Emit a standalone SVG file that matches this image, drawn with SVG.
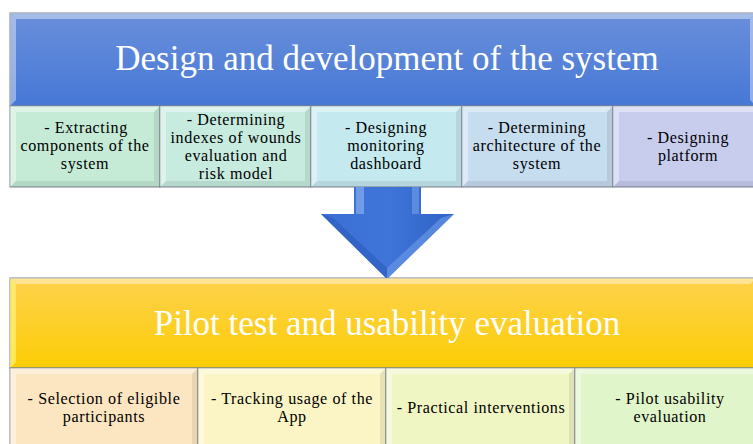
<svg xmlns="http://www.w3.org/2000/svg" width="753" height="444" viewBox="0 0 753 444">
  <defs>
    <linearGradient id="gBlue" x1="0" y1="0" x2="0" y2="1">
      <stop offset="0" stop-color="#6a8fda"/>
      <stop offset="1" stop-color="#4678d6"/>
    </linearGradient>
    <linearGradient id="gYellow" x1="0" y1="0" x2="0" y2="1">
      <stop offset="0" stop-color="#fdd24e"/>
      <stop offset="1" stop-color="#fccd04"/>
    </linearGradient>
    <linearGradient id="gArrow" x1="0" y1="0" x2="1" y2="0">
      <stop offset="0" stop-color="#3b6fd3"/>
      <stop offset="0.5" stop-color="#3f74d8"/>
      <stop offset="1" stop-color="#2f63c6"/>
    </linearGradient>
  </defs>
  <style>
    .frame { stroke: #7a8290; stroke-width: 1; }
    .hi { fill: #ffffff; opacity: 0.4; }
    .lo { fill: #000000; opacity: 0.08; }
    .title { font-family: "Liberation Serif", "Times New Roman", serif; fill: #ffffff; text-anchor: middle; }
    .lbl { font-family: "Liberation Serif", "Times New Roman", serif; font-size: 16.1px; letter-spacing: 0.6px; fill: #000000; text-anchor: middle; }
  </style>

  <rect width="753" height="444" fill="#ffffff"/>

  <!-- stage 1 header -->
  <g id="stage-design">
    <rect x="10" y="13" width="746" height="93" fill="url(#gBlue)" class="frame"/>
    <polygon class="hi" points="10,13 16,19 16,100 10,106"/>
    <polygon class="hi" points="10,13 756,13 750,19 16,19" opacity="0.15"/>
    <polygon class="hi" points="750,19 756,13 756,106 750,100"/>
    <text class="title" x="387" y="70" font-size="35">Design and development of the system</text>
  </g>

  <!-- stage 1 tasks -->
  <g id="task-extracting">
    <rect x="10" y="106" width="150" height="81" fill="#c5ebd6" class="frame"/>
    <polygon class="hi" points="10,106 160,106 154,112 16,112"/>
    <polygon class="hi" points="10,106 16,112 16,181 10,187"/>
    <polygon class="lo" points="160,106 160,187 154,181 154,112"/>
    <polygon class="lo" points="10,187 160,187 154,181 16,181"/>
    <text class="lbl"><tspan x="86" y="133">- Extracting</tspan><tspan x="85" dy="18">components of the</tspan><tspan x="85" dy="18">system</tspan></text>
  </g>
  <g id="task-indexes">
    <rect x="160" y="106" width="151" height="81" fill="#c7ebdf" class="frame"/>
    <polygon class="hi" points="160,106 311,106 305,112 166,112"/>
    <polygon class="hi" points="160,106 166,112 166,181 160,187"/>
    <polygon class="lo" points="311,106 311,187 305,181 305,112"/>
    <polygon class="lo" points="160,187 311,187 305,181 166,181"/>
    <text class="lbl"><tspan x="236" y="125">- Determining</tspan><tspan x="236" dy="18">indexes of wounds</tspan><tspan x="236" dy="18">evaluation and</tspan><tspan x="236" dy="18">risk model</tspan></text>
  </g>
  <g id="task-dashboard">
    <rect x="311" y="106" width="151" height="81" fill="#c4e9ef" class="frame"/>
    <polygon class="hi" points="311,106 462,106 456,112 317,112"/>
    <polygon class="hi" points="311,106 317,112 317,181 311,187"/>
    <polygon class="lo" points="462,106 462,187 456,181 456,112"/>
    <polygon class="lo" points="311,187 462,187 456,181 317,181"/>
    <text class="lbl"><tspan x="386" y="133">- Designing</tspan><tspan x="386" dy="18">monitoring</tspan><tspan x="386" dy="18">dashboard</tspan></text>
  </g>
  <g id="task-architecture">
    <rect x="462" y="106" width="151" height="81" fill="#c6dcef" class="frame"/>
    <polygon class="hi" points="462,106 613,106 607,112 468,112"/>
    <polygon class="hi" points="462,106 468,112 468,181 462,187"/>
    <polygon class="lo" points="613,106 613,187 607,181 607,112"/>
    <polygon class="lo" points="462,187 613,187 607,181 468,181"/>
    <text class="lbl"><tspan x="537" y="133">- Determining</tspan><tspan x="537" dy="18">architecture of the</tspan><tspan x="537" dy="18">system</tspan></text>
  </g>
  <g id="task-platform">
    <rect x="613" y="106" width="150" height="81" fill="#c8cdee" class="frame"/>
    <polygon class="hi" points="613,106 763,106 757,112 619,112"/>
    <polygon class="hi" points="613,106 619,112 619,181 613,187"/>
    <polygon class="lo" points="763,106 763,187 757,181 757,112"/>
    <polygon class="lo" points="613,187 763,187 757,181 619,181"/>
    <text class="lbl"><tspan x="688" y="143">- Designing</tspan><tspan x="688" dy="18">platform</tspan></text>
  </g>

  <!-- connector between stages -->
  <g id="connectors">
    <polygon points="354,187 421,187 421,214 454,214 387,279 321,214 354,214" fill="url(#gArrow)"/>
    <polygon points="356,187 364,187 364,214 356,214" fill="#7aa6ee" opacity="0.8"/>
    <polygon points="412,187 419,187 419,214 412,214" fill="#6b98e6" opacity="0.7"/>
    <polygon points="321,214 387,279 387,268 333,218" fill="#2a5bbb" opacity="0.6"/>
    <polygon points="454,214 387,279 387,268 441,218" fill="#6e9ce8" opacity="0.6"/>
  </g>

  <!-- stage 2 header -->
  <g id="stage-pilot">
    <rect x="10" y="278" width="746" height="90" fill="url(#gYellow)" class="frame" stroke="#b89a40"/>
    <polygon points="10,278 16,284 16,362 10,368" fill="#fff27a" opacity="0.7"/>
    <polygon class="hi" points="10,278 756,278 750,284 16,284" opacity="0.15"/>
    <text class="title" x="387" y="335" font-size="35">Pilot test and usability evaluation</text>
  </g>

  <!-- stage 2 tasks -->
  <g id="task-selection">
    <rect x="10" y="368" width="188" height="84" fill="#fce6c2" class="frame"/>
    <polygon class="hi" points="10,368 198,368 192,374 16,374"/>
    <polygon class="hi" points="10,368 16,374 16,452 10,452"/>
    <polygon class="lo" points="198,368 198,452 192,452 192,374"/>
    <text class="lbl"><tspan x="104" y="404">- Selection of eligible</tspan><tspan x="104" dy="18">participants</tspan></text>
  </g>
  <g id="task-tracking">
    <rect x="198" y="368" width="188" height="84" fill="#fbf5c6" class="frame"/>
    <polygon class="hi" points="198,368 386,368 380,374 204,374"/>
    <polygon class="hi" points="198,368 204,374 204,452 198,452"/>
    <polygon class="lo" points="386,368 386,452 380,452 380,374"/>
    <text class="lbl"><tspan x="292" y="404">- Tracking usage of the</tspan><tspan x="292" dy="18">App</tspan></text>
  </g>
  <g id="task-interventions">
    <rect x="386" y="368" width="189" height="84" fill="#f0f5c4" class="frame"/>
    <polygon class="hi" points="386,368 575,368 569,374 392,374"/>
    <polygon class="hi" points="386,368 392,374 392,452 386,452"/>
    <polygon class="lo" points="575,368 575,452 569,452 569,374"/>
    <text class="lbl" x="481" y="413">- Practical interventions</text>
  </g>
  <g id="task-usability">
    <rect x="575" y="368" width="190" height="84" fill="#e0f5c9" class="frame"/>
    <polygon class="hi" points="575,368 765,368 759,374 581,374"/>
    <polygon class="hi" points="575,368 581,374 581,452 575,452"/>
    <text class="lbl"><tspan x="670" y="404">- Pilot usability</tspan><tspan x="670" dy="18">evaluation</tspan></text>
  </g>
</svg>
